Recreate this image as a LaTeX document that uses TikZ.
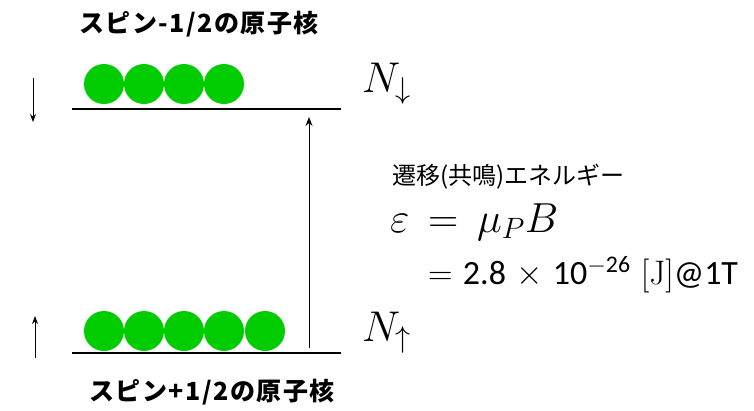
\RequirePackage{fix-cm}
\documentclass[tikz,border=0pt]{standalone}
\usepackage{fontspec}
\usepackage{amsmath}
\newfontfamily\jp{Noto Sans CJK JP}
\newfontfamily\carl{Carlito}
\usetikzlibrary{arrows.meta}
\definecolor{ball}{HTML}{00CC00}
\tikzset{
  ball/.style={circle, fill=ball, minimum size=40pt, inner sep=0pt},
  level/.style={line width=1.8pt},
  arr/.style={line width=1pt, -{Stealth[length=9pt,width=7pt]}},
  spinarr/.style={line width=0.9pt, -{Stealth[length=8pt,width=6pt]}},
  title/.style={font=\jp\bfseries\fontsize{25}{28}\selectfont\addfontfeature{LetterSpace=6}, inner sep=0pt},
  nlab/.style={font=\fontsize{43}{46}\selectfont, inner sep=0pt, anchor=west},
}
\begin{document}
\begin{tikzpicture}[x=1pt,y=-1pt]
\useasboundingbox (0,0) rectangle (754,410);
\node[title] (t1) at (199,24) {スピン-1/2の原子核};
\node[title] (t2) at (212,392) {スピン+1/2の原子核};
% levels
\coordinate (u1) at (72,109); \coordinate (u2) at (341,109);
\coordinate (l1) at (72,353); \coordinate (l2) at (341,353);
\draw[level] (u1) -- (u2);
\draw[level] (l1) -- (l2);
% balls
\foreach \i/\x in {1/104,2/144,3/184,4/224} \node[ball] (a\i) at (\x,84) {};
\foreach \i/\x in {1/104,2/144,3/184,4/224,5/265} \node[ball] (b\i) at (\x,331) {};
% spin arrows
\coordinate (d1) at (33,78); \coordinate (d2) at (33,122);
\draw[spinarr] (d1) -- (d2);
\coordinate (e1) at (35,358); \coordinate (e2) at (35,316);
\draw[spinarr] (e1) -- (e2);
% transition
\coordinate (v1) at (309,348); \coordinate (v2) at (309,117);
\draw[arr] (v1) -- (v2);
% N labels
\node[nlab] (nd) at (362,84) {$N_{\downarrow}$};
\node[nlab] (nu) at (362,333) {$N_{\uparrow}$};
% text
\node[anchor=west, inner sep=0pt, font=\jp\fontsize{24}{28}\selectfont] (tr) at (392,177) {遷移(共鳴)エネルギー};
\node[anchor=west, inner sep=0pt, font=\fontsize{42}{46}\selectfont] (eq) at (390,222) {$\varepsilon\,=\,\mu_{P}B$};
\node[anchor=west, inner sep=0pt, font=\fontsize{34}{38}\selectfont] (val) at (428,275) {$=$ {\carl 2.8} $\times$ {\carl 10}$^{-\text{\carl 26}}$ [J]{\carl @1T}};
\end{tikzpicture}
\end{document}
